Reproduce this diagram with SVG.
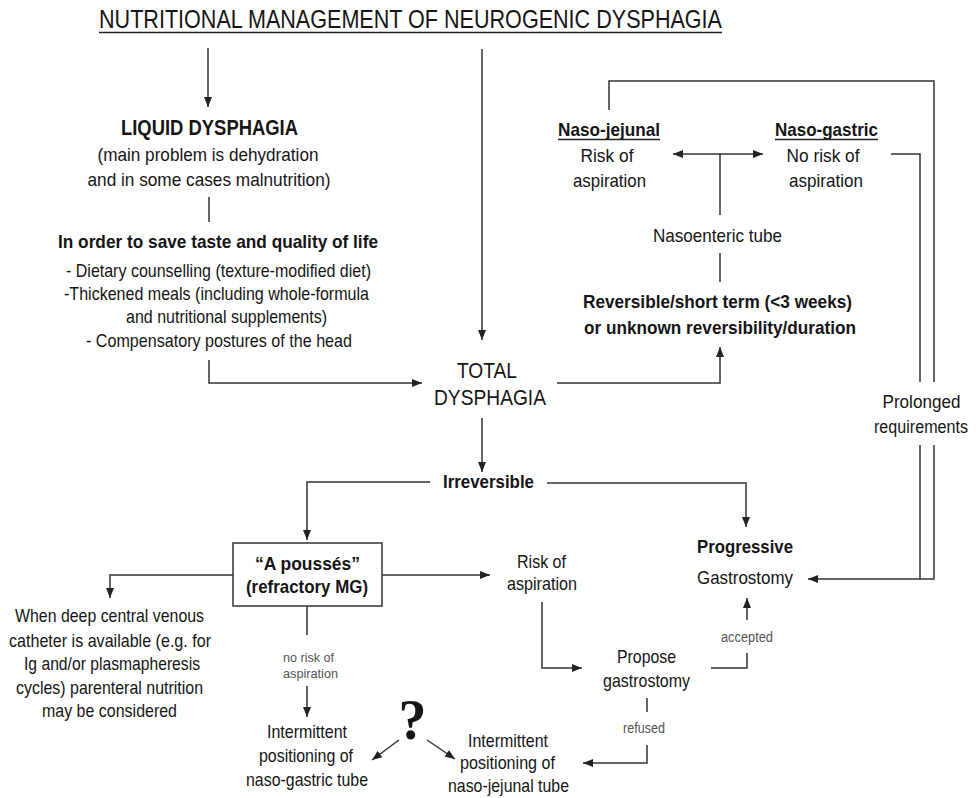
<svg xmlns="http://www.w3.org/2000/svg" width="976" height="798" viewBox="0 0 976 798">
<style>
text{font-family:"Liberation Sans",Arial,sans-serif;fill:#151515;font-size:19px;text-anchor:middle}
.b{font-weight:bold}
.big{font-size:22px}
.t{font-size:25px}
.m{font-size:17.5px}
.g{font-size:14px;fill:#555}
.gs{font-size:13px}
.q{font-family:"Liberation Serif","Times New Roman",serif;font-weight:bold;font-size:56px}
.ln{fill:none;stroke:#333;stroke-width:1.5}
.ul{stroke:#222;stroke-width:1.3}
.box{fill:#fff;stroke:#333;stroke-width:1.5}
</style>
<defs>
<marker id="ah" markerUnits="userSpaceOnUse" markerWidth="11" markerHeight="9" refX="10" refY="4.5" orient="auto">
<path d="M0,0.5 L10,4.5 L0,8.5 z" fill="#222"/>
</marker>
<marker id="ahs" markerUnits="userSpaceOnUse" markerWidth="11" markerHeight="9" refX="0" refY="4.5" orient="auto">
<path d="M10,0.5 L0,4.5 L10,8.5 z" fill="#222"/>
</marker>
</defs>

<g id="title">
<text class="t" x="410.5" y="28" textLength="623" lengthAdjust="spacingAndGlyphs">NUTRITIONAL MANAGEMENT OF NEUROGENIC DYSPHAGIA</text>
<line class="ul" x1="99" y1="32.5" x2="722" y2="32.5"/>
</g>

<g id="liquid">
<text class="b big" x="209.5" y="135" textLength="177" lengthAdjust="spacingAndGlyphs">LIQUID DYSPHAGIA</text>
<text x="208" y="161" textLength="221" lengthAdjust="spacingAndGlyphs">(main problem is dehydration</text>
<text x="209" y="186" textLength="243" lengthAdjust="spacingAndGlyphs">and in some cases malnutrition)</text>
</g>

<g id="taste">
<text class="b" x="218" y="248" textLength="320" lengthAdjust="spacingAndGlyphs">In order to save taste and quality of life</text>
<text x="218.5" y="277" textLength="305" lengthAdjust="spacingAndGlyphs">- Dietary counselling (texture-modified diet)</text>
<text x="216.5" y="300" textLength="305" lengthAdjust="spacingAndGlyphs">-Thickened meals (including whole-formula</text>
<text x="226.5" y="323" textLength="201" lengthAdjust="spacingAndGlyphs">and nutritional supplements)</text>
<text x="219" y="347" textLength="266" lengthAdjust="spacingAndGlyphs">- Compensatory postures of the head</text>
</g>

<g id="total">
<text class="big" x="487" y="378" textLength="60" lengthAdjust="spacingAndGlyphs">TOTAL</text>
<text class="big" x="490" y="405" textLength="112" lengthAdjust="spacingAndGlyphs">DYSPHAGIA</text>
</g>

<g id="nasojejunal">
<text class="b" x="609" y="136" textLength="102" lengthAdjust="spacingAndGlyphs">Naso-jejunal</text>
<line class="ul" x1="558" y1="139.5" x2="660" y2="139.5"/>
<text x="607" y="162" textLength="53" lengthAdjust="spacingAndGlyphs">Risk of</text>
<text x="609.5" y="187" textLength="73" lengthAdjust="spacingAndGlyphs">aspiration</text>
</g>

<g id="nasogastric">
<text class="b" x="826.5" y="136" textLength="103" lengthAdjust="spacingAndGlyphs">Naso-gastric</text>
<line class="ul" x1="775" y1="139.5" x2="878" y2="139.5"/>
<text x="823" y="162" textLength="73" lengthAdjust="spacingAndGlyphs">No risk of</text>
<text x="826" y="187" textLength="74" lengthAdjust="spacingAndGlyphs">aspiration</text>
</g>

<g id="nasoenteric">
<text x="717.5" y="242" textLength="129" lengthAdjust="spacingAndGlyphs">Nasoenteric tube</text>
</g>

<g id="reversible">
<text class="b" x="717.5" y="308" textLength="269" lengthAdjust="spacingAndGlyphs">Reversible/short term (&lt;3 weeks)</text>
<text class="b" x="720" y="334" textLength="272" lengthAdjust="spacingAndGlyphs">or unknown reversibility/duration</text>
</g>

<g id="prolonged">
<text class="m" x="921.5" y="408" textLength="78" lengthAdjust="spacingAndGlyphs">Prolonged</text>
<text class="m" x="921" y="433" textLength="94" lengthAdjust="spacingAndGlyphs">requirements</text>
</g>

<g id="irreversible">
<text class="b" x="488.5" y="488" textLength="91" lengthAdjust="spacingAndGlyphs">Irreversible</text>
</g>

<g id="apousses">
<rect class="box" x="233" y="543" width="149" height="63"/>
<text class="b" x="307.5" y="570" textLength="105" lengthAdjust="spacingAndGlyphs">“A poussés”</text>
<text class="b" x="307" y="593" textLength="122" lengthAdjust="spacingAndGlyphs">(refractory MG)</text>
</g>

<g id="risk">
<text x="541.5" y="568" textLength="49" lengthAdjust="spacingAndGlyphs">Risk of</text>
<text x="542" y="590" textLength="70" lengthAdjust="spacingAndGlyphs">aspiration</text>
</g>

<g id="progressive">
<text class="b" x="745" y="553" textLength="96" lengthAdjust="spacingAndGlyphs">Progressive</text>
<text x="745" y="584" textLength="96" lengthAdjust="spacingAndGlyphs">Gastrostomy</text>
</g>

<g id="parenteral">
<text x="109.5" y="622" textLength="189" lengthAdjust="spacingAndGlyphs">When deep central venous</text>
<text x="110" y="647" textLength="202" lengthAdjust="spacingAndGlyphs">catheter is available (e.g. for</text>
<text x="112" y="670" textLength="176" lengthAdjust="spacingAndGlyphs">Ig and/or plasmapheresis</text>
<text x="109.5" y="694" textLength="187" lengthAdjust="spacingAndGlyphs">cycles) parenteral nutrition</text>
<text x="109.5" y="717" textLength="135" lengthAdjust="spacingAndGlyphs">may be considered</text>
</g>

<g id="norisk">
<text class="g gs" x="308.5" y="662" textLength="51" lengthAdjust="spacingAndGlyphs">no risk of</text>
<text class="g gs" x="310.5" y="678" textLength="55" lengthAdjust="spacingAndGlyphs">aspiration</text>
</g>

<g id="ngtube">
<text x="307" y="738" textLength="80" lengthAdjust="spacingAndGlyphs">Intermittent</text>
<text x="306" y="762" textLength="94" lengthAdjust="spacingAndGlyphs">positioning of</text>
<text x="307" y="786" textLength="122" lengthAdjust="spacingAndGlyphs">naso-gastric tube</text>
</g>

<g id="question">
<text class="q" x="412.5" y="739">?</text>
</g>

<g id="njtube">
<text x="508" y="747" textLength="80" lengthAdjust="spacingAndGlyphs">Intermittent</text>
<text x="507.5" y="769" textLength="95" lengthAdjust="spacingAndGlyphs">positioning of</text>
<text x="508.5" y="792" textLength="121" lengthAdjust="spacingAndGlyphs">naso-jejunal tube</text>
</g>

<g id="propose">
<text x="646.5" y="663" textLength="59" lengthAdjust="spacingAndGlyphs">Propose</text>
<text x="646.5" y="687" textLength="87" lengthAdjust="spacingAndGlyphs">gastrostomy</text>
</g>

<g id="accepted">
<text class="g" x="747" y="642" textLength="52" lengthAdjust="spacingAndGlyphs">accepted</text>
</g>

<g id="refused">
<text class="g" x="644" y="733" textLength="42" lengthAdjust="spacingAndGlyphs">refused</text>
</g>

<g id="connectors">
<path class="ln" d="M208,48 V107" marker-end="url(#ah)"/>
<path class="ln" d="M482,49 V340" marker-end="url(#ah)"/>
<path class="ln" d="M209,197 V222"/>
<path class="ln" d="M209,360 V383 H422" marker-end="url(#ah)"/>
<path class="ln" d="M557,383 H720 V347" marker-end="url(#ah)"/>
<path class="ln" d="M720,282 V253"/>
<path class="ln" d="M720,215 V154"/>
<path class="ln" d="M673,154 H763" marker-start="url(#ahs)" marker-end="url(#ah)"/>
<path class="ln" d="M609,110 V81 H934 V382"/>
<path class="ln" d="M891,154 H920 V382"/>
<path class="ln" d="M920,445 V579"/>
<path class="ln" d="M934,445 V579 H808" marker-end="url(#ah)"/>
<path class="ln" d="M482,418 V472" marker-end="url(#ah)"/>
<path class="ln" d="M430,482 H307 V540" marker-end="url(#ah)"/>
<path class="ln" d="M547,483 H746 V527" marker-end="url(#ah)"/>
<path class="ln" d="M233,575 H110 V598" marker-end="url(#ah)"/>
<path class="ln" d="M382,575 H490" marker-end="url(#ah)"/>
<path class="ln" d="M307,606 V635"/>
<path class="ln" d="M307,686 V717" marker-end="url(#ah)"/>
<path class="ln" d="M542,602 V668 H582" marker-end="url(#ah)"/>
<path class="ln" d="M711,668 H747 V653"/>
<path class="ln" d="M747,620 V598" marker-end="url(#ah)"/>
<path class="ln" d="M647,698 V712"/>
<path class="ln" d="M647,745 V763 H583" marker-end="url(#ah)"/>
<path class="ln" d="M399,740 L372,760" marker-end="url(#ah)"/>
<path class="ln" d="M427,740 L455,759" marker-end="url(#ah)"/>
</g>
</svg>
